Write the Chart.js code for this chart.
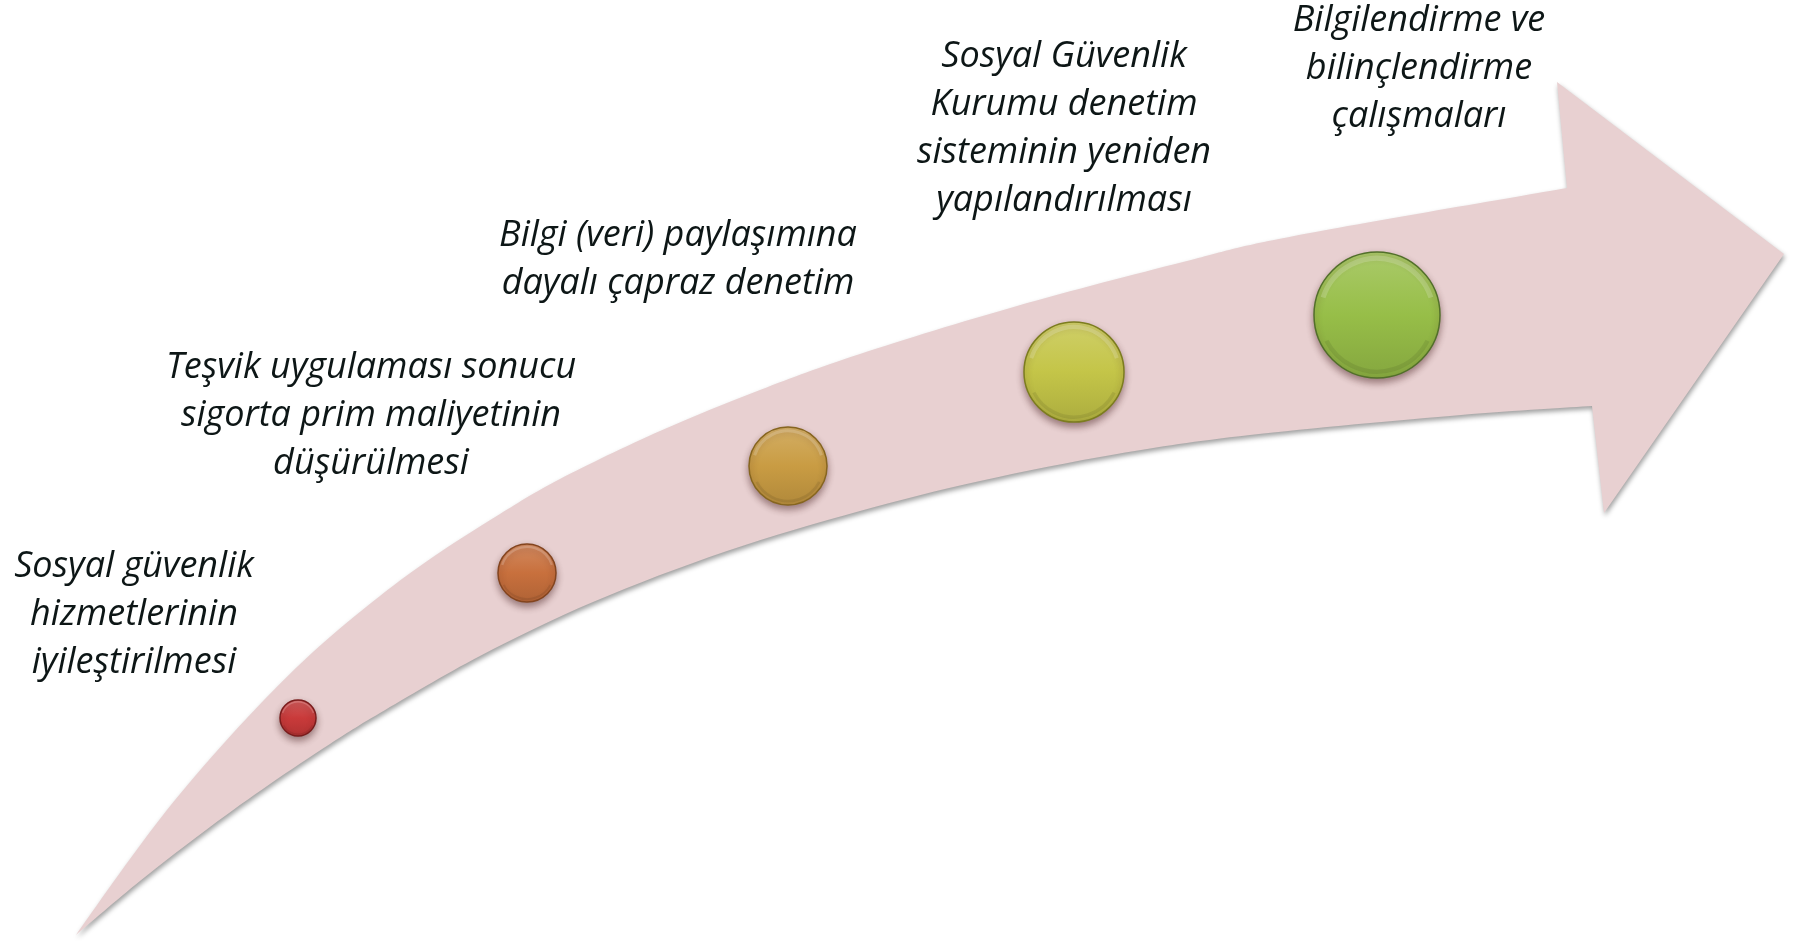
<!DOCTYPE html>
<html lang="tr">
<head>
<meta charset="utf-8">
<title>Kayıt dışı istihdamla mücadele</title>
<script src="https://cdn.jsdelivr.net/npm/chart.js@4.4.1/dist/chart.umd.min.js"></script>
<style>
  html, body { margin: 0; padding: 0; background: #fff; }
  #wrap { width: 1794px; height: 950px; position: relative; }
</style>
</head>
<body>
<div id="wrap"><canvas id="myChart"></canvas></div>
<script>
/*global Chart*/

// steps along the arrow
const stepLabels = [
    ['Sosyal güvenlik', 'hizmetlerinin', 'iyileştirilmesi'],
    ['Teşvik uygulaması sonucu', 'sigorta prim maliyetinin', 'düşürülmesi'],
    ['Bilgi (veri) paylaşımına', 'dayalı çapraz denetim'],
    ['Sosyal Güvenlik', 'Kurumu denetim', 'sisteminin yeniden', 'yapılandırılması'],
    ['Bilgilendirme ve', 'bilinçlendirme', 'çalışmaları']
];
const stepX = [298, 527, 788, 1074, 1377];
const stepY = [718, 573, 466, 372, 315];
const stepRadius = [18, 29, 39, 50, 63];

// arrow outline (same units as the axes)
const upperEdgeX = [76, 130, 180, 247, 313, 380, 433, 500, 560, 660, 760, 860, 1017, 1183, 1294, 1567];
const upperEdgeY = [935, 859, 794, 718, 652, 596, 557, 514, 479, 431, 390, 354, 306, 262, 236, 188];
const headX = [1557, 1784, 1604];
const headY = [82, 254, 513];
const lowerEdgeX = [76, 140, 210, 270, 330, 380, 480, 593, 727, 860, 980, 1117, 1250, 1461, 1592];
const lowerEdgeY = [935, 881, 827, 784, 744, 713, 656, 602, 551, 511, 481, 454, 435, 415, 406];

const stepColors = ['#c93a3a', '#c8703d', '#c99c43', '#c4c548', '#97be48'];
const stepRims = ['#7a1c1c', '#83441e', '#86651f', '#7c7d1f', '#52702a'];
const arrowFill = '#e8d0d1';

const labelX = [134, 371, 678, 1064, 1419];
const labelY = [567, 368, 236, 57, 21];
const lineGap = 48;

function mix(hex, target, t) {
    const a = parseInt(hex.slice(1), 16);
    const r = (a >> 16) & 255, g = (a >> 8) & 255, b = a & 255;
    const m = v => Math.round(v + (target - v) * t);
    return 'rgb(' + m(r) + ',' + m(g) + ',' + m(b) + ')';
}

function curveThrough(ctx, pts) {
    for (let i = 0; i < pts.length - 1; i++) {
        const p0 = pts[i - 1] || pts[i];
        const p1 = pts[i];
        const p2 = pts[i + 1];
        const p3 = pts[i + 2] || p2;
        ctx.bezierCurveTo(
            p1[0] + (p2[0] - p0[0]) / 6, p1[1] + (p2[1] - p0[1]) / 6,
            p2[0] - (p3[0] - p1[0]) / 6, p2[1] - (p3[1] - p1[1]) / 6,
            p2[0], p2[1]);
    }
}

const arrowPlugin = {
    id: 'arrowShape',
    beforeDatasetsDraw(chart) {
        const {ctx, scales: {x, y}} = chart;
        const up = upperEdgeX.map((v, i) => [x.getPixelForValue(v), y.getPixelForValue(upperEdgeY[i])]);
        const low = lowerEdgeX.map((v, i) => [x.getPixelForValue(v), y.getPixelForValue(lowerEdgeY[i])]).reverse();
        ctx.save();
        ctx.beginPath();
        ctx.moveTo(up[0][0], up[0][1]);
        curveThrough(ctx, up);
        headX.forEach((v, i) => ctx.lineTo(x.getPixelForValue(v), y.getPixelForValue(headY[i])));
        ctx.lineTo(low[0][0], low[0][1]);
        curveThrough(ctx, low);
        ctx.closePath();
        ctx.shadowColor = 'rgba(0,0,0,0.38)';
        ctx.shadowBlur = 5;
        ctx.shadowOffsetX = 1;
        ctx.shadowOffsetY = 3;
        ctx.fillStyle = arrowFill;
        ctx.fill();
        ctx.restore();
    }
};

const bubbleShadow = {
    id: 'bubbleShadow',
    beforeDatasetDraw(chart) {
        const ctx = chart.ctx;
        ctx.save();
        ctx.shadowColor = 'rgba(60,20,20,0.45)';
        ctx.shadowBlur = 7;
        ctx.shadowOffsetY = 4;
    },
    afterDatasetDraw(chart) {
        const ctx = chart.ctx;
        ctx.restore();
        // bevel highlight on the top of each ball
        chart.getDatasetMeta(0).data.forEach((el, i) => {
            const r = stepRadius[i];
            ctx.save();
            ctx.beginPath();
            ctx.arc(el.x, el.y, r * 0.9, Math.PI * 1.1, Math.PI * 1.9);
            ctx.strokeStyle = 'rgba(255,255,255,0.18)';
            ctx.lineWidth = Math.max(1.5, r * 0.08);
            ctx.stroke();
            ctx.beginPath();
            ctx.arc(el.x, el.y, r * 0.9, Math.PI * 0.15, Math.PI * 0.85);
            ctx.strokeStyle = 'rgba(0,0,0,0.08)';
            ctx.lineWidth = Math.max(1.5, r * 0.07);
            ctx.stroke();
            ctx.restore();
        });
    }
};

const labelPlugin = {
    id: 'stepLabels',
    afterDraw(chart) {
        const {ctx, scales: {x, y}} = chart;
        ctx.save();
        ctx.font = 'italic 36px "Open Sans"';
        ctx.fillStyle = '#0d1616';
        ctx.textAlign = 'center';
        ctx.textBaseline = 'middle';
        stepLabels.forEach((lines, i) => {
            lines.forEach((line, j) => {
                ctx.fillText(line, x.getPixelForValue(labelX[i]), y.getPixelForValue(labelY[i] + j * lineGap));
            });
        });
        ctx.restore();
    }
};

const data = {
    datasets: [{
        label: 'Adımlar',
        data: stepX.map((v, i) => ({x: v, y: stepY[i], r: stepRadius[i]})),
        backgroundColor(c) {
            const i = c.dataIndex;
            const chart = c.chart;
            if (!chart.chartArea || i === undefined) return stepColors[i] || stepColors[0];
            const cy = chart.scales.y.getPixelForValue(stepY[i]);
            const r = stepRadius[i];
            const g = chart.ctx.createLinearGradient(0, cy - r, 0, cy + r);
            g.addColorStop(0, mix(stepColors[i], 255, 0.18));
            g.addColorStop(0.5, stepColors[i]);
            g.addColorStop(1, mix(stepColors[i], 0, 0.12));
            return g;
        },
        borderColor: stepRims,
        borderWidth: 1.5,
        clip: false
    }]
};

const config = {
    type: 'bubble',
    data,
    options: {
        responsive: true,
        maintainAspectRatio: false,
        animation: false,
        events: [],
        layout: {padding: 0, autoPadding: false},
        scales: {
            x: {type: 'linear', min: 0, max: 1794, display: false},
            y: {type: 'linear', min: 0, max: 950, reverse: true, display: false}
        },
        plugins: {
            legend: {display: false},
            tooltip: {enabled: false}
        }
    },
    plugins: [arrowPlugin, bubbleShadow, labelPlugin]
};

/*eslint-disable no-unused-vars*/
const graphe1 = new Chart(document.getElementById('myChart'), config);
</script>
</body>
</html>
